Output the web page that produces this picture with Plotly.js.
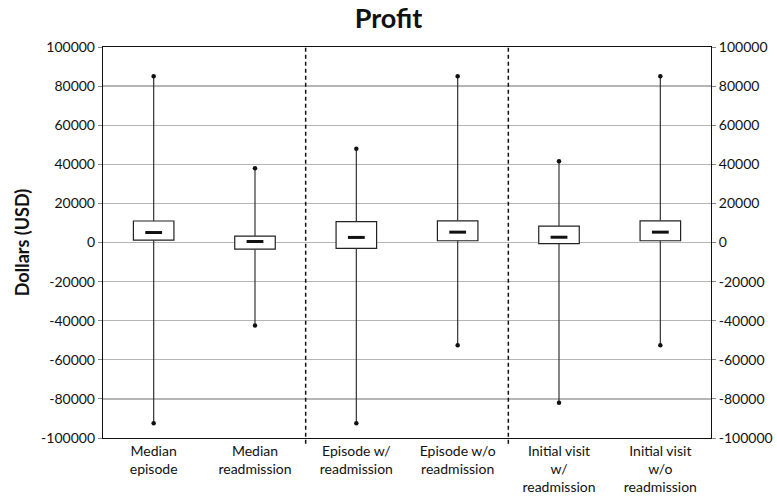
<!DOCTYPE html>
<html>
<head>
<meta charset="utf-8">
<script src="https://cdn.plot.ly/plotly-3.0.1.min.js"></script>
<style>html,body{margin:0;padding:0;background:#fff;}#chart{width:777px;height:500px;}</style>
</head>
<body>
<div id="chart"></div>
<script>
const categories = ["Median<br>episode", "Median<br>readmission", "Episode w/<br>readmission", "Episode w/o<br>readmission", "Initial visit<br>w/<br>readmission", "Initial visit<br>w/o<br>readmission"];
const maxVals = [85000, 38000, 48000, 85000, 41500, 85000];
const q3Vals = [11000, 3300, 10700, 11100, 8400, 11100];
const medianVals = [5100, 500, 2600, 5300, 2700, 5300];
const q1Vals = [1200, -3400, -3000, 900, -600, 900];
const minVals = [-92500, -42500, -92500, -52500, -82000, -52500];
const yTickVals = [-100000, -80000, -60000, -40000, -20000, 0, 20000, 40000, 60000, 80000, 100000];
const yTickText = ["-100000", "-80000", "-60000", "-40000", "-20000", "0", "20000", "40000", "60000", "80000", "100000"];
const groupSeparators = [1.5, 3.5];

const xs = categories.map((c, i) => i);

const wx = [], wy = [];
xs.forEach((x, i) => {
  wx.push(x, x, null, x, x, null);
  wy.push(q3Vals[i], maxVals[i], null, q1Vals[i], minVals[i], null);
});

const font = "Lato, 'Open Sans', sans-serif";

const traces = [
  {
    type: 'bar', x: xs, y: q3Vals.map((v, i) => v - q1Vals[i]), base: q1Vals,
    width: 0.4, marker: {color: '#ffffff', line: {color: '#222', width: 1.2}},
    hoverinfo: 'skip', showlegend: false
  },
  {
    type: 'scatter', mode: 'lines', x: wx, y: wy,
    line: {color: '#333', width: 1.2}, hoverinfo: 'skip', showlegend: false
  },
  {
    type: 'scatter', mode: 'markers', x: xs.concat(xs), y: maxVals.concat(minVals),
    marker: {symbol: 'circle', size: 4.5, color: '#111'}, showlegend: false
  },
  {
    type: 'scatter', mode: 'markers', x: xs, y: medianVals,
    marker: {symbol: 'line-ew', size: 12, line: {color: '#111', width: 3}}, showlegend: false
  },
  {
    type: 'scatter', mode: 'markers', x: [0], y: [0], yaxis: 'y2',
    marker: {opacity: 0}, hoverinfo: 'skip', showlegend: false
  }
];

const shapes = groupSeparators.map(s => ({
  type: 'line', xref: 'x', yref: 'paper', x0: s, x1: s, y0: -0.015, y1: 1,
  line: {color: '#111', width: 1.5, dash: '4px,3px'}
}));

const layout = {
  width: 777, height: 500,
  margin: {l: 103, r: 66, t: 47, b: 62},
  paper_bgcolor: '#fff', plot_bgcolor: '#fff',
  font: {family: font, color: '#111', size: 14},
  title: {text: '<b>Profit</b>', font: {size: 27, family: font, color: '#111'}, x: 0.5, xanchor: 'center', y: 0.962, yanchor: 'middle'},
  showlegend: false,
  xaxis: {
    range: [-0.5, 5.5], tickvals: xs, ticktext: categories,
    showgrid: false, zeroline: false, ticks: '', showline: true, linecolor: '#111', linewidth: 1.2, mirror: true,
    tickfont: {size: 14, family: font, color: '#111'}, fixedrange: true
  },
  yaxis: {
    range: [-100000, 100000], tickvals: yTickVals, ticktext: yTickText,
    showgrid: true, gridcolor: '#b5b5b5', gridwidth: 1.4, zeroline: false,
    ticks: 'outside', ticklen: 4, tickcolor: '#888',
    showline: true, linecolor: '#111', linewidth: 1.2, mirror: true,
    tickfont: {size: 14, family: font, color: '#111'},
    title: {text: '<b>Dollars (USD)</b>', font: {size: 18, family: font, color: '#111'}, standoff: 6}
  },
  yaxis2: {
    overlaying: 'y', side: 'right', range: [-100000, 100000], tickvals: yTickVals, ticktext: yTickText,
    showgrid: false, zeroline: false, ticks: 'outside', ticklen: 4, tickcolor: '#888',
    tickfont: {size: 14, family: font, color: '#111'}
  },
  shapes: shapes,
  bargap: 0
};

Plotly.newPlot('chart', traces, layout, {displayModeBar: false, staticPlot: true});
</script>
</body>
</html>
